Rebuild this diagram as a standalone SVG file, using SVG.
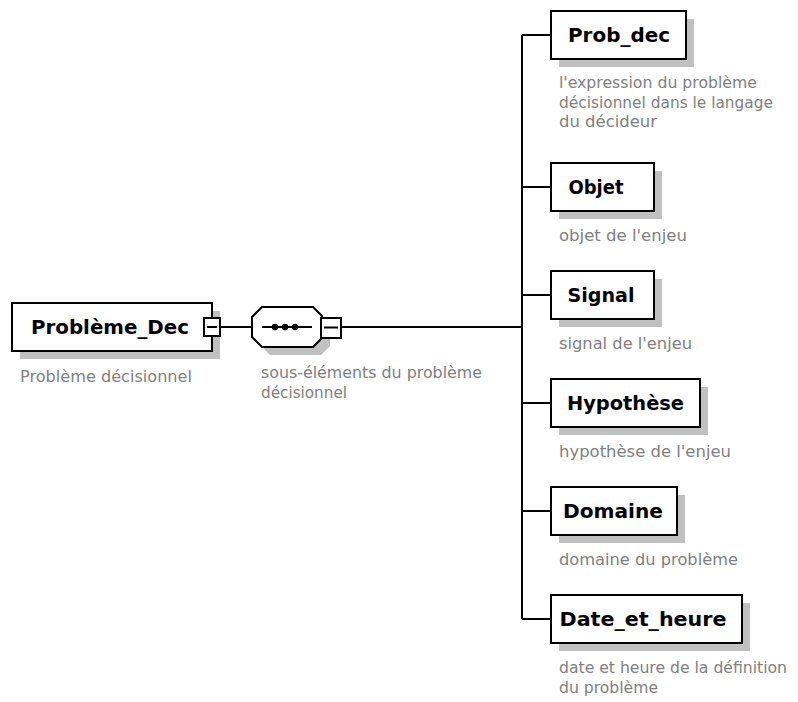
<svg xmlns="http://www.w3.org/2000/svg" width="798" height="702" viewBox="0 0 798 702">
<style>
.box{fill:#fff;stroke:#000;stroke-width:2}
.sh{fill:#c0c0c0}
.lbl{font-family:"DejaVu Sans",Verdana,sans-serif;font-weight:bold;font-size:20px;fill:#000;text-anchor:middle}
.desc{font-family:"DejaVu Sans",Verdana,sans-serif;font-size:15.5px;fill:#808080}
.ln{stroke:#000;stroke-width:2;fill:none}
</style>
<rect width="798" height="702" fill="#fff"/>
<g id="connectors">
<path class="ln" d="M220 327H252"/>
<path class="ln" d="M341 327H522"/>
<path class="ln" d="M522 35V619"/>
<path class="ln" d="M522 35H551M522 187H551M522 295H551M522 403H551M522 511H551M522 619H551"/>
</g>
<g id="root">
<rect class="sh" x="20" y="311" width="200" height="48"/>
<rect class="box" x="12" y="303" width="200" height="48"/>
<text class="lbl" x="110" y="334" textLength="158" lengthAdjust="spacingAndGlyphs">Problème_Dec</text>
<rect class="box" x="204" y="318" width="16" height="18"/>
<path class="ln" d="M207 327H217"/>
<text class="desc" x="20" y="382" textLength="172" lengthAdjust="spacingAndGlyphs">Problème décisionnel</text>
</g>
<g id="sequence">
<polygon class="sh" points="270,315 321,315 330,324 330,346 321,355 270,355 260,345 260,325"/>
<polygon class="box" points="262,307 313,307 322,316 322,338 313,347 262,347 252,337 252,317"/>
<path class="ln" d="M262 327H312"/>
<circle cx="275" cy="327" r="3.2"/>
<circle cx="285" cy="327" r="3.2"/>
<circle cx="295" cy="327" r="3.2"/>
<rect class="box" x="321" y="318" width="20" height="20"/>
<path class="ln" d="M324 327.5H338"/>
<text class="desc" x="261" y="378" textLength="221" lengthAdjust="spacingAndGlyphs">sous-éléments du problème</text>
<text class="desc" x="261" y="397.5" textLength="86" lengthAdjust="spacingAndGlyphs">décisionnel</text>
</g>
<g id="prob_dec">
<rect class="sh" x="559" y="19" width="135" height="48"/>
<rect class="box" x="551" y="11" width="135" height="48"/>
<text class="lbl" x="619" y="42" textLength="102" lengthAdjust="spacingAndGlyphs">Prob_dec</text>
<text class="desc" x="559" y="88" textLength="198" lengthAdjust="spacingAndGlyphs">l'expression du problème</text>
<text class="desc" x="559" y="107.5" textLength="214" lengthAdjust="spacingAndGlyphs">décisionnel dans le langage</text>
<text class="desc" x="559" y="127" textLength="98" lengthAdjust="spacingAndGlyphs">du décideur</text>
</g>
<g id="objet">
<rect class="sh" x="559" y="171" width="103" height="48"/>
<rect class="box" x="551" y="163" width="103" height="48"/>
<text class="lbl" x="596" y="194" textLength="55" lengthAdjust="spacingAndGlyphs">Objet</text>
<text class="desc" x="559" y="241" textLength="128" lengthAdjust="spacingAndGlyphs">objet de l'enjeu</text>
</g>
<g id="signal">
<rect class="sh" x="559" y="279" width="103" height="48"/>
<rect class="box" x="551" y="271" width="103" height="48"/>
<text class="lbl" x="601" y="302" textLength="67" lengthAdjust="spacingAndGlyphs">Signal</text>
<text class="desc" x="559" y="349" textLength="133" lengthAdjust="spacingAndGlyphs">signal de l'enjeu</text>
</g>
<g id="hypothese">
<rect class="sh" x="559" y="387" width="149" height="48"/>
<rect class="box" x="551" y="379" width="149" height="48"/>
<text class="lbl" x="625.5" y="410" textLength="117" lengthAdjust="spacingAndGlyphs">Hypothèse</text>
<text class="desc" x="559" y="457" textLength="172" lengthAdjust="spacingAndGlyphs">hypothèse de l'enjeu</text>
</g>
<g id="domaine">
<rect class="sh" x="559" y="495" width="126" height="48"/>
<rect class="box" x="551" y="487" width="126" height="48"/>
<text class="lbl" x="613" y="518" textLength="100" lengthAdjust="spacingAndGlyphs">Domaine</text>
<text class="desc" x="559" y="565" textLength="179" lengthAdjust="spacingAndGlyphs">domaine du problème</text>
</g>
<g id="date_et_heure">
<rect class="sh" x="559" y="603" width="191" height="48"/>
<rect class="box" x="551" y="595" width="191" height="48"/>
<text class="lbl" x="643" y="626" textLength="167" lengthAdjust="spacingAndGlyphs">Date_et_heure</text>
<text class="desc" x="559" y="673" textLength="228" lengthAdjust="spacingAndGlyphs">date et heure de la définition</text>
<text class="desc" x="559" y="692.5" textLength="99" lengthAdjust="spacingAndGlyphs">du problème</text>
</g>
</svg>
